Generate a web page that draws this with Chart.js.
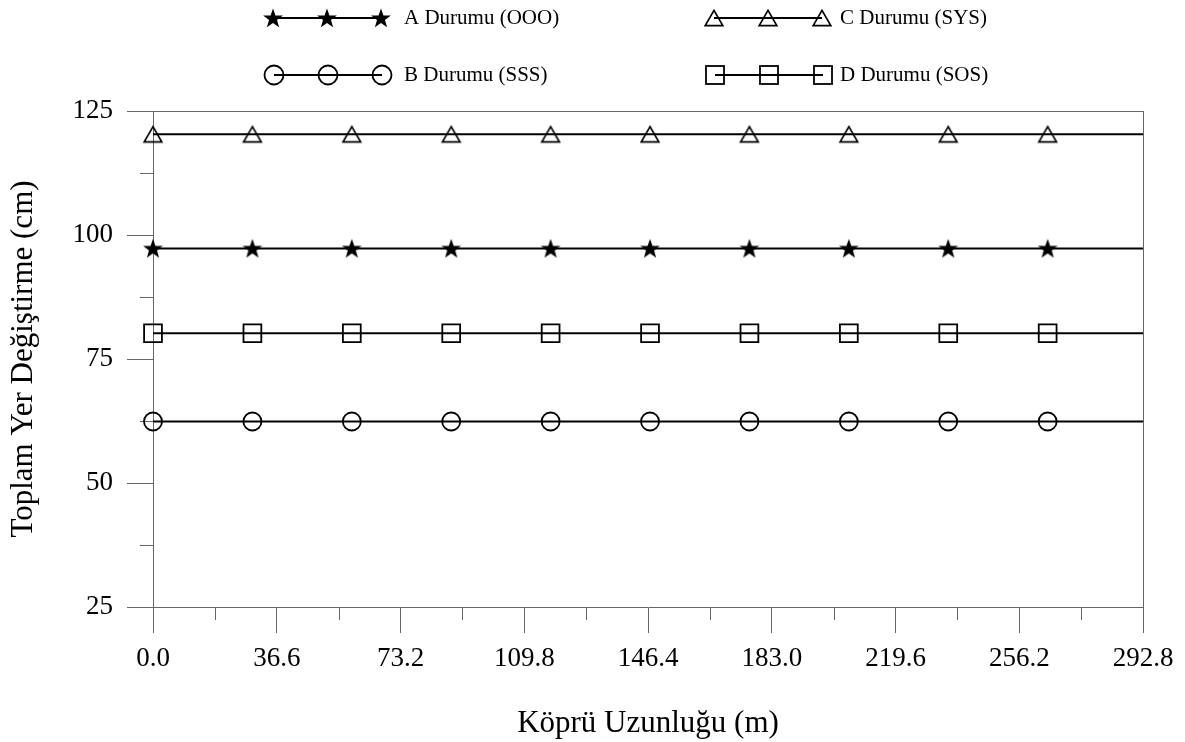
<!DOCTYPE html>
<html>
<head>
<meta charset="utf-8">
<script src="https://cdn.jsdelivr.net/npm/chart.js@4"></script>
<style>
html,body{margin:0;padding:0;background:#fff}
#wrap{width:1185px;height:742px;position:relative}
</style>
</head>
<body>
<div id="wrap"><canvas id="c"></canvas></div>
<script>
// ---- data ----
const positions = [0, 29.4, 58.8, 88.2, 117.6, 147.0, 176.4, 205.8, 235.2, 264.6, 292.8];
const seriesNames = ['A Durumu (OOO)', 'B Durumu (SSS)', 'C Durumu (SYS)', 'D Durumu (SOS)'];
const valuesA = [97.3, 97.3, 97.3, 97.3, 97.3, 97.3, 97.3, 97.3, 97.3, 97.3, 97.3];
const valuesB = [62.4, 62.4, 62.4, 62.4, 62.4, 62.4, 62.4, 62.4, 62.4, 62.4, 62.4];
const valuesC = [120.3, 120.3, 120.3, 120.3, 120.3, 120.3, 120.3, 120.3, 120.3, 120.3, 120.3];
const valuesD = [80.2, 80.2, 80.2, 80.2, 80.2, 80.2, 80.2, 80.2, 80.2, 80.2, 80.2];
const xTickValues = [0, 18.3, 36.6, 54.9, 73.2, 91.5, 109.8, 128.1, 146.4, 164.7, 183.0, 201.3, 219.6, 237.9, 256.2, 274.5, 292.8];
const xTickLabels = ['0.0', '', '36.6', '', '73.2', '', '109.8', '', '146.4', '', '183.0', '', '219.6', '', '256.2', '', '292.8'];
const yTickValues = [25, 37.5, 50, 62.5, 75, 87.5, 100, 112.5, 125];
const yTickLabels = ['25', '', '50', '', '75', '', '100', '', '125'];
const xTitle = 'Köprü Uzunluğu (m)';
const yTitle = 'Toplam Yer Değiştirme (cm)';

const FONT = "'Liberation Serif', 'Times New Roman', serif";
const AXIS = '#666';

// ---- marker images ----
function makeStar() {
  const c = document.createElement('canvas');
  c.width = 24; c.height = 24;
  const g = c.getContext('2d');
  const cx = 12, cy = 12.8, R = 10.4, r = 4.2;
  g.beginPath();
  for (let i = 0; i < 10; i++) {
    const rad = i % 2 ? r : R;
    const a = -Math.PI / 2 + i * Math.PI / 5;
    const px = cx + rad * Math.cos(a), py = cy + rad * Math.sin(a);
    if (i === 0) g.moveTo(px, py); else g.lineTo(px, py);
  }
  g.closePath();
  g.fillStyle = '#000';
  g.fill();
  return c;
}
function makeTriangle() {
  const c = document.createElement('canvas');
  c.width = 22; c.height = 20;
  const g = c.getContext('2d');
  const w = 17.6, h = 15.2;
  g.beginPath();
  g.moveTo(11, 10 - h / 2);
  g.lineTo(11 + w / 2, 10 + h / 2);
  g.lineTo(11 - w / 2, 10 + h / 2);
  g.closePath();
  g.lineWidth = 1.7;
  g.strokeStyle = '#000';
  g.stroke();
  return c;
}
const starImg = makeStar();
const triImg = makeTriangle();
const lastIdx = positions.length - 1;

function pts(vals) { return positions.map((x, i) => ({x: x, y: vals[i]})); }
function radiusFn(r) { return ctx => ctx.dataIndex === lastIdx ? 0 : r; }

const datasets = [
  {label: seriesNames[0], data: pts(valuesA), pointStyle: starImg, pointRadius: radiusFn(9), legendMarker: 'star'},
  {label: seriesNames[1], data: pts(valuesB), pointStyle: 'circle', pointRadius: radiusFn(9), legendMarker: 'circle'},
  {label: seriesNames[2], data: pts(valuesC), pointStyle: triImg, pointRadius: radiusFn(9), legendMarker: 'triangle'},
  {label: seriesNames[3], data: pts(valuesD), pointStyle: 'rect', pointRadius: radiusFn(12.6), legendMarker: 'rect'}
].map(d => Object.assign({
  borderColor: '#000', borderWidth: 2,
  pointBorderColor: '#000', pointBackgroundColor: 'rgba(0,0,0,0)', pointBorderWidth: 1.8,
  pointHoverRadius: 0, tension: 0, clip: false, fill: false
}, d));

// ---- plugins ----
const framePlugin = {
  id: 'frame',
  beforeDatasetsDraw(chart) {
    const {ctx, chartArea: a, scales} = chart;
    ctx.save();
    ctx.strokeStyle = AXIS;
    ctx.lineWidth = 1;
    ctx.beginPath();
    ctx.moveTo(a.left, Math.round(a.top) + 0.5);
    ctx.lineTo(a.right, Math.round(a.top) + 0.5);
    ctx.moveTo(Math.round(a.right) + 0.5, a.top);
    ctx.lineTo(Math.round(a.right) + 0.5, a.bottom);
    // minor ticks
    xTickValues.forEach((v, i) => {
      if (i % 2 === 1) {
        const px = Math.round(scales.x.getPixelForValue(v)) + 0.5;
        ctx.moveTo(px, a.bottom);
        ctx.lineTo(px, a.bottom + 13);
      }
    });
    yTickValues.forEach((v, i) => {
      if (i % 2 === 1) {
        const py = Math.round(scales.y.getPixelForValue(v)) + 0.5;
        ctx.moveTo(a.left - 13, py);
        ctx.lineTo(a.left, py);
      }
    });
    ctx.stroke();
    ctx.restore();
  }
};

const legendPlugin = {
  id: 'customLegend',
  afterDraw(chart) {
    const ctx = chart.ctx;
    const slots = [
      {x0: 273, y: 18, tx: 404},
      {x0: 274, y: 75, tx: 404},
      {x0: 714, y: 18, tx: 840},
      {x0: 715, y: 75, tx: 840}
    ];
    const gap = 54;
    chart.data.datasets.forEach((ds, i) => {
      const s = slots[i];
      ctx.save();
      ctx.strokeStyle = '#000';
      ctx.lineWidth = 2;
      ctx.beginPath();
      ctx.moveTo(s.x0, s.y);
      ctx.lineTo(s.x0 + 2 * gap, s.y);
      ctx.stroke();
      for (let k = 0; k < 3; k++) {
        const mx = s.x0 + k * gap;
        ctx.lineWidth = 1.8;
        if (ds.legendMarker === 'star') {
          ctx.drawImage(starImg, mx - starImg.width / 2, s.y - starImg.height / 2);
        } else if (ds.legendMarker === 'triangle') {
          ctx.drawImage(triImg, mx - triImg.width / 2, s.y - triImg.height / 2);
        } else if (ds.legendMarker === 'circle') {
          ctx.beginPath();
          ctx.arc(mx, s.y, 9.5, 0, Math.PI * 2);
          ctx.stroke();
        } else {
          ctx.strokeRect(mx - 9, s.y - 9, 18, 18);
        }
      }
      ctx.fillStyle = '#000';
      ctx.font = '21px ' + FONT;
      ctx.textBaseline = 'middle';
      ctx.textAlign = 'left';
      ctx.fillText(ds.label, s.tx, s.y);
      ctx.restore();
    });
  }
};

new Chart(document.getElementById('c'), {
  type: 'line',
  data: {datasets: datasets},
  options: {
    responsive: true,
    maintainAspectRatio: false,
    animation: false,
    events: [],
    layout: {padding: {top: 111, right: 42, bottom: 0, left: 0}},
    plugins: {legend: {display: false}, tooltip: {enabled: false}},
    scales: {
      x: {
        type: 'linear', min: 0, max: 292.8,
        afterBuildTicks: s => { s.ticks = xTickValues.map(v => ({value: v})); },
        afterFit: s => { s.height = 135; },
        ticks: {
          callback: (v, i) => xTickLabels[i],
          font: {family: FONT, size: 27}, color: '#000', padding: 10,
          maxRotation: 0, minRotation: 0, autoSkip: false
        },
        grid: {
          drawOnChartArea: false, drawTicks: true, tickLength: 26, tickWidth: 1,
          tickColor: c => (c.index % 2 ? 'rgba(0,0,0,0)' : AXIS)
        },
        border: {display: true, color: AXIS, width: 1},
        title: {display: true, text: xTitle, font: {family: FONT, size: 31}, color: '#000', padding: {top: 7, bottom: 0}}
      },
      y: {
        type: 'linear', min: 25, max: 125,
        afterBuildTicks: s => { s.ticks = yTickValues.map(v => ({value: v})); },
        afterFit: s => { s.width = 153; },
        ticks: {
          callback: (v, i) => yTickLabels[i],
          font: {family: FONT, size: 27}, color: '#000', padding: 14, autoSkip: false
        },
        grid: {
          drawOnChartArea: false, drawTicks: true, tickLength: 26, tickWidth: 1,
          tickColor: c => (c.index % 2 ? 'rgba(0,0,0,0)' : AXIS)
        },
        border: {display: true, color: AXIS, width: 1},
        title: {display: true, text: yTitle, font: {family: FONT, size: 31}, color: '#000', padding: {top: 5, bottom: 0}}
      }
    }
  },
  plugins: [framePlugin, legendPlugin]
});
</script>
</body>
</html>
